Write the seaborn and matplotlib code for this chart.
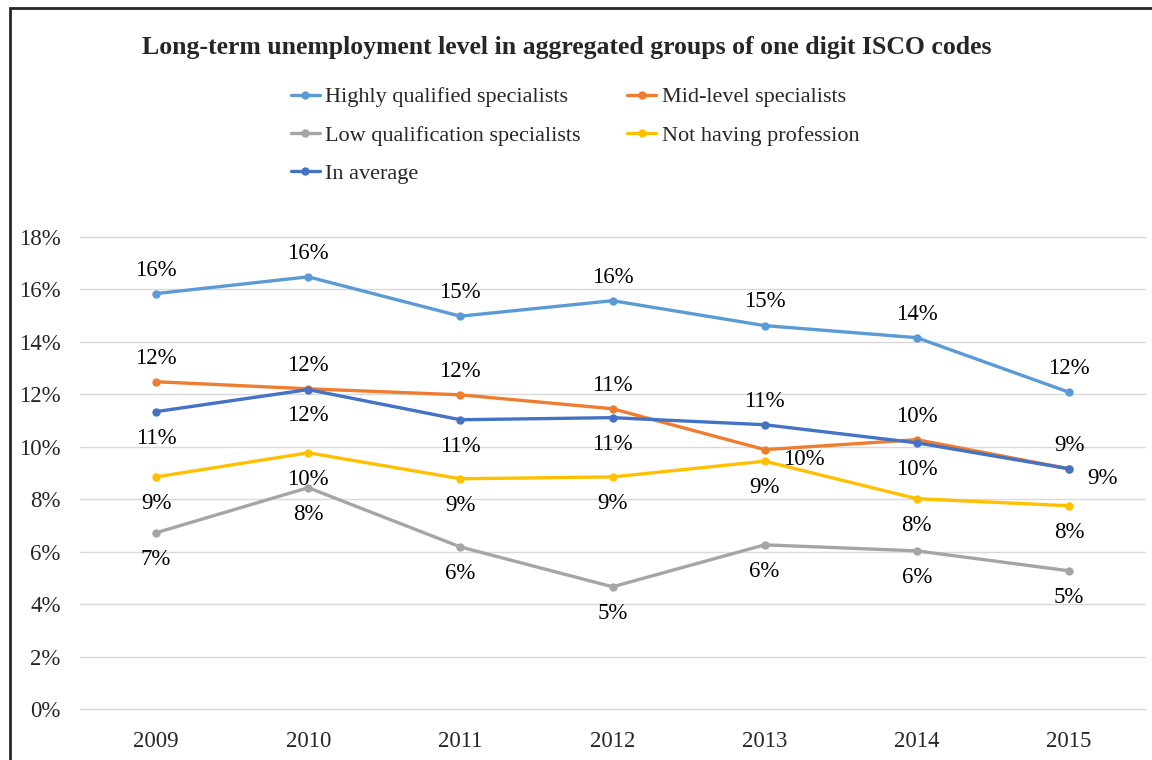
import pandas as pd
import matplotlib.pyplot as plt
import matplotlib.patches as patches
import seaborn as sns

sns.set_style("white")
plt.rcParams['font.family'] = ['Liberation Serif', 'DejaVu Serif']

# Data (share of long-term unemployed, %)
years = ["2009", "2010", "2011", "2012", "2013", "2014", "2015"]
highly_qualified = [15.84, 16.48, 14.98, 15.57, 14.62, 14.16, 12.08]
mid_level = [12.48, 12.21, 11.98, 11.45, 9.89, 10.27, 9.16]
low_qualification = [6.72, 8.44, 6.18, 4.66, 6.26, 6.03, 5.27]
not_having = [8.85, 9.77, 8.78, 8.85, 9.45, 8.02, 7.75]
in_average = [11.34, 12.18, 11.03, 11.11, 10.84, 10.15, 9.16]

series_names = ["Highly qualified specialists", "Mid-level specialists",
                "Low qualification specialists", "Not having profession",
                "In average"]
series_values = [highly_qualified, mid_level, low_qualification, not_having, in_average]
colors = ["#5B9BD5", "#ED7D31", "#A5A5A5", "#FFC000", "#4472C4"]

# where each data label sits: a = above, b = below, r = right
label_pos = {
    "Highly qualified specialists": ["a"] * 7,
    "Mid-level specialists": ["a", "a", "a", "a", "r", "a", "a"],
    "Low qualification specialists": ["b"] * 7,
    "Not having profession": ["b"] * 7,
    "In average": ["b", "b", "b", "b", "a", "b", "r"],
}

rows = []
for name, vals in zip(series_names, series_values):
    for y, v in zip(years, vals):
        rows.append({"year": y, "value": v, "series": name})
df = pd.DataFrame(rows)

fig = plt.figure(figsize=(11.52, 7.6), dpi=100)
ax = fig.add_axes([0.0694, 0.0671, 0.9246, 0.6211])

sns.lineplot(data=df, x="year", y="value", hue="series", hue_order=series_names,
             palette=colors, marker="o", markersize=6, markeredgewidth=0,
             linewidth=2.4, sort=False, ax=ax, legend=False)

ax.set_ylim(0, 18)
ax.set_xlim(-0.5, len(years) - 0.5)
ax.set_yticks(range(0, 19, 2))
ax.set_yticklabels([f"{t}%" for t in range(0, 19, 2)])
ax.yaxis.grid(True, color="#D9D9D9", linewidth=1)
for gl in ax.get_ygridlines():
    gl.set_clip_on(False)
ax.xaxis.grid(False)
for s in ax.spines.values():
    s.set_visible(False)
ax.tick_params(axis="both", length=0, labelsize=16.5)
ax.tick_params(axis="x", pad=16)
ax.tick_params(axis="y", pad=14)
ax.set_xlabel("")
ax.set_ylabel("")

# data labels
for name, vals in zip(series_names, series_values):
    for i, v in enumerate(vals):
        pos = label_pos[name][i]
        if pos == "a":
            xy_off, ha = (0, 17), "center"
        elif pos == "b":
            xy_off, ha = (0, -19), "center"
        else:
            xy_off, ha = (13, -7), "left"
        ax.annotate(f"{round(v)}%", (i, v), xytext=xy_off, textcoords="offset points",
                    ha=ha, va="center", fontsize=16.5, color="#000000")

# legend (Excel fills row by row)
handles = ax.get_lines()[:len(series_names)]
order = [0, 2, 4, 1, 3]
fig.legend([handles[k] for k in order], [series_names[k] for k in order],
           loc="upper left", bbox_to_anchor=(0.235, 0.912), ncol=2, frameon=False,
           fontsize=16, handlelength=1.3, handletextpad=0.25, columnspacing=2.1,
           labelspacing=0.8)

fig.text(0.492, 0.938, "Long-term unemployment level in aggregated groups of one digit ISCO codes",
         ha="center", va="center", fontsize=18.5, fontweight="bold")

# chart area border (cropped on right/bottom)
fig.patches.append(patches.Rectangle((10 / 1152, -0.05), 1.2, 1 - 8 / 760 + 0.05,
                                     transform=fig.transFigure, fill=False,
                                     edgecolor="#262626", linewidth=2))

fig.savefig("out.png", dpi=100)
